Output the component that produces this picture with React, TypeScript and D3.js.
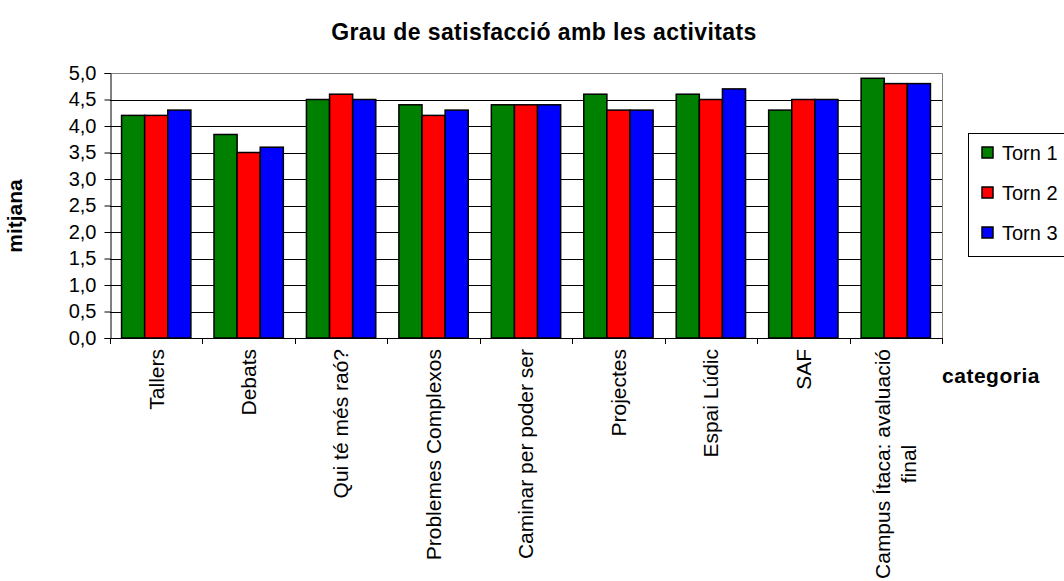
import React, { useEffect, useRef } from 'react';
import * as d3 from 'd3';

const categories = [
  'Tallers',
  'Debats',
  'Qui té més raó?',
  'Problemes Complexos',
  'Caminar per poder ser',
  'Projectes',
  'Espai Lúdic',
  'SAF',
  'Campus Ítaca: avaluació\nfinal',
];
const seriesNames = ['Torn 1', 'Torn 2', 'Torn 3'];
const torn1 = [4.2, 3.84, 4.5, 4.4, 4.4, 4.6, 4.6, 4.3, 4.9];
const torn2 = [4.2, 3.5, 4.6, 4.2, 4.4, 4.3, 4.5, 4.5, 4.8];
const torn3 = [4.3, 3.6, 4.5, 4.3, 4.4, 4.3, 4.7, 4.5, 4.8];
const colors = ['#008000', '#ff0000', '#0000ff'];
const yTicks = [0, 0.5, 1, 1.5, 2, 2.5, 3, 3.5, 4, 4.5, 5];

const FONT = '"Liberation Sans", Arial, sans-serif';

function App() {
  const svgRef = useRef<SVGSVGElement>(null);

  useEffect(() => {
    const svg = d3.select(svgRef.current);
    svg.selectAll('*').remove();

    const width = 1064;
    const height = 581;
    const left = 110;
    const right = 942;
    const top = 73;
    const bottom = 338;

    svg.attr('width', width).attr('height', height).style('font-family', FONT);

    const series = [torn1, torn2, torn3];

    const x0 = d3.scaleBand<string>().domain(categories).range([left, right]).padding(0);
    const bw = x0.bandwidth();
    const x1 = d3
      .scaleBand<string>()
      .domain(seriesNames)
      .range([bw * 0.125, bw * 0.875])
      .padding(0);
    const y = d3.scaleLinear().domain([0, 5]).range([bottom, top]);

    // title
    svg
      .append('text')
      .attr('x', 544)
      .attr('y', 40)
      .attr('text-anchor', 'middle')
      .attr('font-size', 23)
      .attr('font-weight', 'bold')
      .attr('letter-spacing', 0.4)
      .text('Grau de satisfacció amb les activitats');

    // gridlines
    svg
      .append('g')
      .selectAll('line')
      .data(yTicks.filter((t) => t > 0 && t < 5))
      .enter()
      .append('line')
      .attr('x1', left)
      .attr('x2', right)
      .attr('y1', (d) => Math.round(y(d)) + 0.5)
      .attr('y2', (d) => Math.round(y(d)) + 0.5)
      .attr('stroke', '#000')
      .attr('stroke-width', 1);

    // plot border (top & right)
    svg
      .append('path')
      .attr('d', `M${left},${top + 0.5}H${right + 0.5}V${bottom}`)
      .attr('fill', 'none')
      .attr('stroke', '#808080')
      .attr('stroke-width', 1);

    // bars
    const groups = svg
      .append('g')
      .selectAll('g')
      .data(categories)
      .enter()
      .append('g')
      .attr('transform', (d) => `translate(${x0(d)},0)`);

    groups
      .selectAll('rect')
      .data((_, i) => series.map((s, k) => ({ name: seriesNames[k], value: s[i], k })))
      .enter()
      .append('rect')
      .attr('x', (d) => x1(d.name)!)
      .attr('y', (d) => y(d.value))
      .attr('width', x1.bandwidth())
      .attr('height', (d) => bottom - y(d.value))
      .attr('fill', (d) => colors[d.k])
      .attr('stroke', '#000')
      .attr('stroke-width', 1.5);

    // y axis
    const yAxis = svg
      .append('g')
      .attr('transform', `translate(${left + 0.5},0)`)
      .call(
        d3
          .axisLeft(y)
          .tickValues(yTicks)
          .tickSize(6)
          .tickPadding(8)
          .tickFormat((d) => d3.format('.1f')(d as number).replace('.', ','))
      );
    yAxis.select('.domain').attr('stroke', '#000');
    yAxis.selectAll('.tick line').attr('stroke', '#000');
    yAxis
      .selectAll('.tick text')
      .attr('font-size', 20)
      .attr('font-family', FONT)
      .attr('fill', '#000');

    // x axis line + ticks at category boundaries
    const xAxis = svg.append('g');
    xAxis
      .append('line')
      .attr('x1', left)
      .attr('x2', right + 0.5)
      .attr('y1', bottom + 0.5)
      .attr('y2', bottom + 0.5)
      .attr('stroke', '#000');
    const boundaries = categories.map((c) => x0(c)!).concat([right]);
    xAxis
      .selectAll('.xtick')
      .data(boundaries)
      .enter()
      .append('line')
      .attr('class', 'xtick')
      .attr('x1', (d) => Math.round(d) + 0.5)
      .attr('x2', (d) => Math.round(d) + 0.5)
      .attr('y1', bottom)
      .attr('y2', bottom + 6)
      .attr('stroke', '#000');

    // category labels, rotated
    const labelTop = 349;
    categories.forEach((c) => {
      const lines = c.split('\n');
      const cx = x0(c)! + bw / 2;
      const lh = 26;
      const first = svg
        .append('text')
        .attr('font-size', 21)
        .attr('text-anchor', 'middle')
        .text(lines[0]);
      const len = (first.node() as SVGTextElement).getComputedTextLength();
      const mid = labelTop + len / 2;
      const offset = ((lines.length - 1) * lh) / 2;
      first.attr('transform', `translate(${cx - offset},${mid}) rotate(-90)`).attr('dy', '0.35em');
      lines.slice(1).forEach((ln, i) => {
        svg
          .append('text')
          .attr('font-size', 21)
          .attr('text-anchor', 'middle')
          .attr('dy', '0.35em')
          .attr('transform', `translate(${cx - offset + (i + 1) * lh},${mid}) rotate(-90)`)
          .text(ln);
      });
    });

    // axis titles
    svg
      .append('text')
      .attr('transform', `translate(22,216) rotate(-90)`)
      .attr('text-anchor', 'middle')
      .attr('font-size', 21)
      .attr('font-weight', 'bold')
      .text('mitjana');

    svg
      .append('text')
      .attr('x', 991)
      .attr('y', 383)
      .attr('text-anchor', 'middle')
      .attr('font-size', 21)
      .attr('font-weight', 'bold')
      .attr('letter-spacing', 0.5)
      .text('categoria');

    // legend
    const legend = svg.append('g');
    legend
      .append('rect')
      .attr('x', 968.5)
      .attr('y', 133.5)
      .attr('width', 110)
      .attr('height', 123)
      .attr('fill', '#fff')
      .attr('stroke', '#000');
    const ly = d3.scalePoint<string>().domain(seriesNames).range([153, 233]);
    const items = legend
      .selectAll('.item')
      .data(seriesNames)
      .enter()
      .append('g')
      .attr('class', 'item')
      .attr('transform', (d) => `translate(0,${ly(d)})`);
    items
      .append('rect')
      .attr('x', 982)
      .attr('y', -6)
      .attr('width', 11)
      .attr('height', 11)
      .attr('fill', (_, i) => colors[i])
      .attr('stroke', '#000')
      .attr('stroke-width', 1.5);
    items
      .append('text')
      .attr('x', 1002)
      .attr('y', 0)
      .attr('dy', '0.36em')
      .attr('font-size', 20)
      .text((d) => d);
  }, []);

  return (
    <div style={{ position: 'absolute', left: 0, top: 0, background: '#fff' }}>
      <svg ref={svgRef} style={{ display: 'block' }}></svg>
    </div>
  );
}

export default App;
